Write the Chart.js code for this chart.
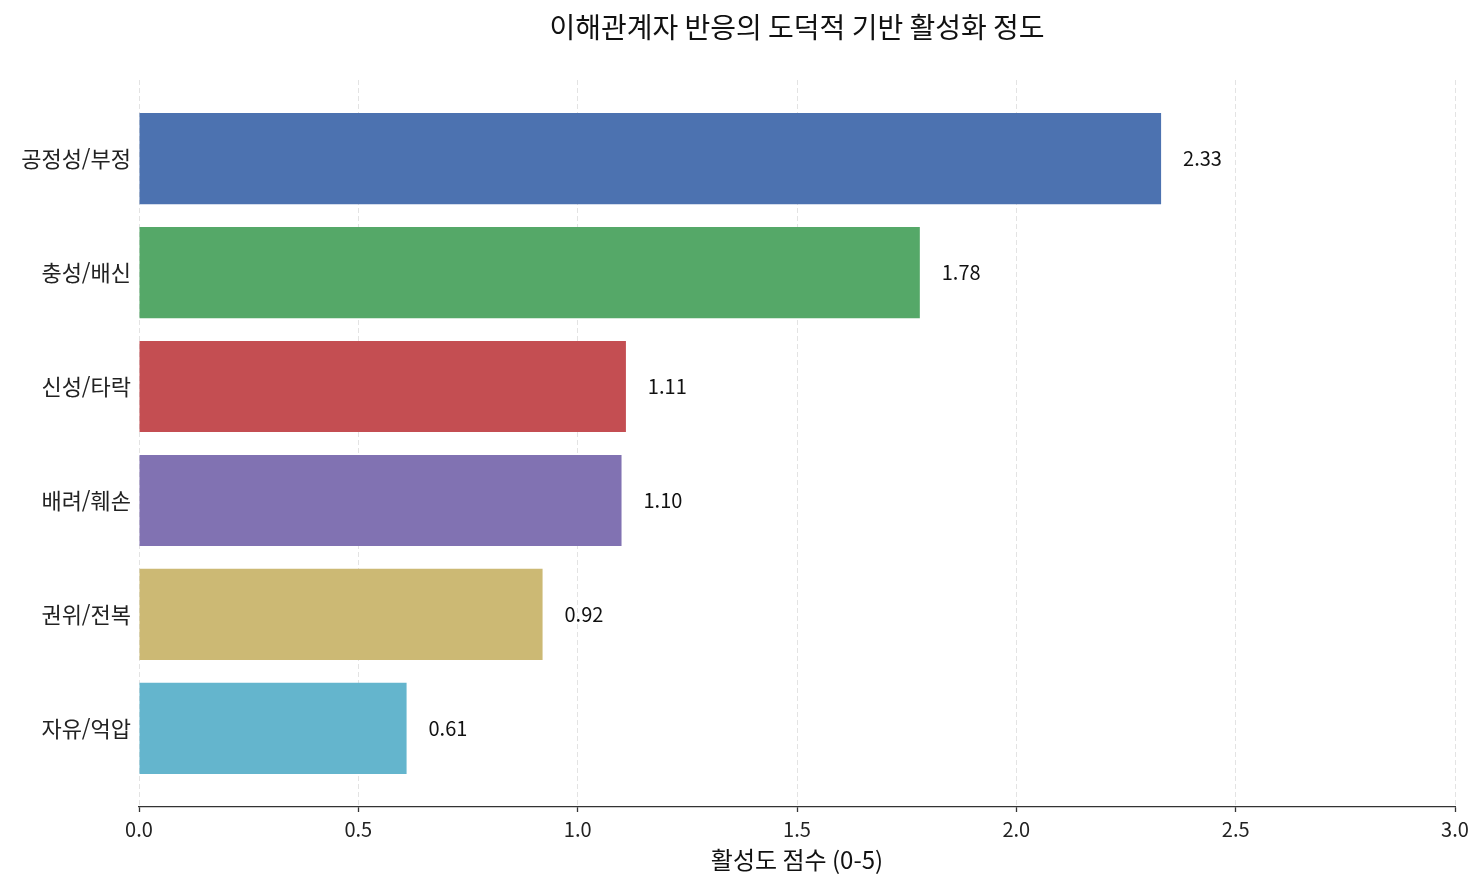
<!DOCTYPE html>
<html lang="ko">
<head>
<meta charset="utf-8">
<title>이해관계자 반응의 도덕적 기반 활성화 정도</title>
<script src="https://cdn.jsdelivr.net/npm/chart.js@4.4.1/dist/chart.umd.min.js"></script>
<style>
  html, body { margin: 0; padding: 0; background: #ffffff; }
  #wrap { width: 1484px; height: 887px; }
</style>
</head>
<body>
<div id="wrap"><canvas id="moralChart" width="1484" height="887"></canvas></div>
<script>
// ---------------------------------------------------------------
// 데이터
// ---------------------------------------------------------------
var chartTitle = '이해관계자 반응의 도덕적 기반 활성화 정도';
var axisTitle = '활성도 점수 (0-5)';
var kategori = ['공정성/부정', '충성/배신', '신성/타락', '배려/훼손', '권위/전복', '자유/억압'];
var skor = [2.33, 1.78, 1.11, 1.10, 0.92, 0.61];
var warnaBatang = ['#4C72B0', '#55A868', '#C44E52', '#8172B2', '#CCB974', '#64B5CD'];
var xTicks = [0, 0.5, 1.0, 1.5, 2.0, 2.5, 3.0];

var FONT = "'Noto Sans CJK KR', 'Noto Sans', sans-serif";

// 세로축(선형)의 인덱스 = 카테고리 순번
var titikData = skor.map(function (v, i) { return { x: v, y: i }; });

// ---------------------------------------------------------------
// 플러그인: 플롯 영역 가운데 제목 + 막대 끝 값 표시
// ---------------------------------------------------------------
var labelPlugin = {
  id: 'labelNilai',
  afterDatasetsDraw: function (chart) {
    var ctx = chart.ctx;
    var xs = chart.scales.x;
    var meta = chart.getDatasetMeta(0);
    ctx.save();
    ctx.font = '20px ' + FONT;
    ctx.fillStyle = '#111111';
    ctx.textAlign = 'left';
    ctx.textBaseline = 'middle';
    meta.data.forEach(function (bar, i) {
      ctx.fillText(skor[i].toFixed(2), xs.getPixelForValue(skor[i] + 0.05), bar.y);
    });
    ctx.restore();
  },
  afterDraw: function (chart) {
    var ctx = chart.ctx;
    var area = chart.chartArea;
    ctx.save();
    ctx.font = '28px ' + FONT;
    ctx.fillStyle = '#111111';
    ctx.textAlign = 'center';
    ctx.textBaseline = 'middle';
    ctx.fillText(chartTitle, (area.left + area.right) / 2, 27);
    ctx.restore();
  }
};

// ---------------------------------------------------------------
// 가로 막대 그래프
// ---------------------------------------------------------------
var ctx = document.getElementById('moralChart').getContext('2d');
var moralChart = new Chart(ctx, {
  type: 'bar',
  data: {
    datasets: [{
      data: titikData,
      backgroundColor: warnaBatang,
      borderWidth: 0,
      barPercentage: 0.8,
      categoryPercentage: 1.0
    }]
  },
  options: {
    indexAxis: 'y',
    responsive: false,
    animation: false,
    layout: { padding: { top: 80, right: 29, bottom: 0, left: 0 } },
    plugins: {
      legend: { display: false },
      tooltip: { enabled: false }
    },
    scales: {
      x: {
        type: 'linear',
        min: 0,
        max: 3,
        afterBuildTicks: function (scale) {
          scale.ticks = xTicks.map(function (v) { return { value: v }; });
        },
        afterFit: function (scale) { scale.height = 80; },
        ticks: {
          color: '#222222',
          font: { family: FONT, size: 20 },
          padding: 5,
          maxRotation: 0,
          callback: function (v) { return Number(v).toFixed(1); }
        },
        grid: {
          color: '#e3e3e3',
          lineWidth: 1,
          drawTicks: true,
          tickLength: 5,
          tickColor: '#333333',
          tickWidth: 1.3
        },
        border: { display: true, color: '#333333', width: 1.3, dash: [5, 3] },
        title: {
          display: true,
          text: axisTitle,
          color: '#111111',
          font: { family: FONT, size: 24 },
          padding: { top: 2, bottom: 13 }
        }
      },
      y: {
        type: 'linear',
        reverse: true,
        offset: false,
        min: -0.69,
        max: 5.69,
        afterBuildTicks: function (scale) {
          scale.ticks = kategori.map(function (c, i) { return { value: i }; });
        },
        afterFit: function (scale) { scale.width = 139; },
        ticks: {
          color: '#222222',
          font: { family: FONT, size: 22 },
          padding: 8,
          autoSkip: false,
          callback: function (v) { return kategori[v]; }
        },
        grid: { display: false, drawTicks: false, offset: false },
        border: { display: false }
      }
    }
  },
  plugins: [labelPlugin]
});
</script>
</body>
</html>
